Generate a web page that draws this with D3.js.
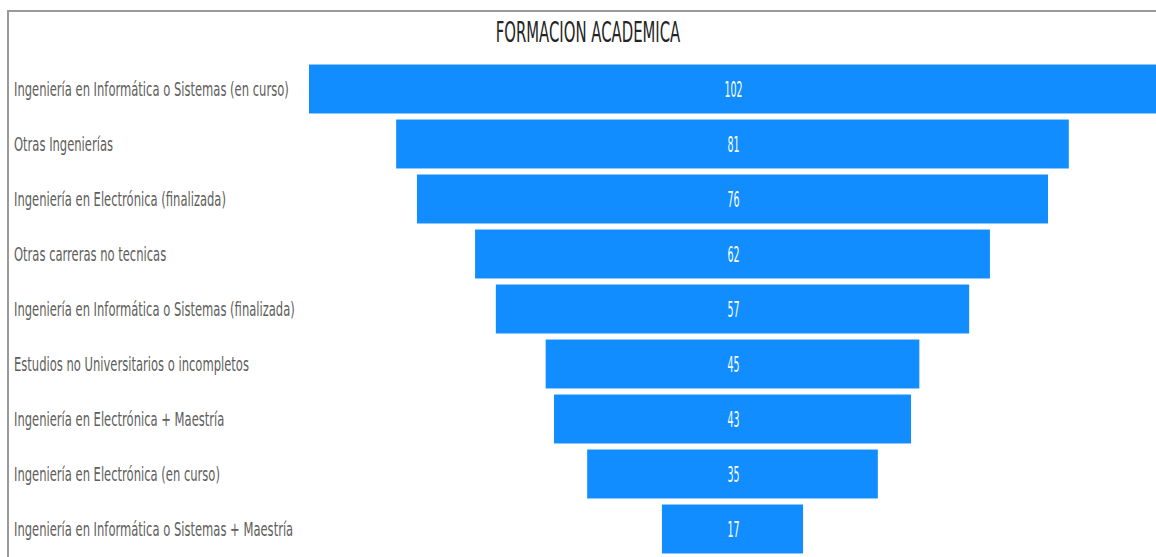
<!DOCTYPE html>
<html>
<head>
<meta charset="utf-8">
<script src="https://cdn.jsdelivr.net/npm/d3@7"></script>
<style>
  body { margin: 0; background: #fff; }
  svg { display: block; }
</style>
</head>
<body>
<div id="chart"></div>
<script>
// data
var categories = [
  "Ingeniería en Informática o Sistemas (en curso)",
  "Otras Ingenierías",
  "Ingeniería en Electrónica (finalizada)",
  "Otras carreras no tecnicas",
  "Ingeniería en Informática o Sistemas (finalizada)",
  "Estudios no Universitarios o incompletos",
  "Ingeniería en Electrónica + Maestría",
  "Ingeniería en Electrónica (en curso)",
  "Ingeniería en Informática o Sistemas + Maestría"
];
var values = [102, 81, 76, 62, 57, 45, 43, 35, 17];
var title = "FORMACION ACADEMICA";

var svgWidth = 1156;
var svgHeight = 557;
var narrow = "'DejaVu Sans Condensed', 'DejaVu Sans', sans-serif";

// squeeze text horizontally to look like the condensed font in the original
function condense(sel, k) {
  sel.each(function() {
    var len = this.getComputedTextLength();
    d3.select(this)
      .attr("textLength", len * k)
      .attr("lengthAdjust", "spacingAndGlyphs");
  });
}

var svg = d3.select("#chart")
  .append("svg")
  .attr("width", svgWidth)
  .attr("height", svgHeight);

// frame (top + left edges only visible)
svg.append("line")
  .attr("x1", 8).attr("x2", svgWidth)
  .attr("y1", 11).attr("y2", 11)
  .attr("stroke", "#9a9a9a").attr("stroke-width", 2);
svg.append("line")
  .attr("x1", 8).attr("x2", 8)
  .attr("y1", 10).attr("y2", svgHeight)
  .attr("stroke", "#9a9a9a").attr("stroke-width", 2);

svg.append("text")
  .attr("x", 588)
  .attr("y", 42)
  .attr("text-anchor", "middle")
  .attr("font-family", narrow)
  .attr("font-size", 28)
  .attr("fill", "#252423")
  .text(title)
  .call(condense, 0.59);

var centerX = 732.5;
var maxWidth = 847;

var y = d3.scaleBand()
  .domain(categories)
  .range([61.5, 556.5])
  .paddingInner(0.11)
  .paddingOuter(0.055);

var w = d3.scaleLinear()
  .domain([0, d3.max(values)])
  .range([0, maxWidth]);

var rows = categories.map(function(c, i) { return { cat: c, val: values[i] }; });

var g = svg.append("g");

g.selectAll("rect")
  .data(rows)
  .enter()
  .append("rect")
  .attr("x", d => centerX - w(d.val) / 2)
  .attr("y", d => y(d.cat))
  .attr("width", d => w(d.val))
  .attr("height", y.bandwidth())
  .attr("fill", "#118DFF");

g.selectAll(".val")
  .data(rows)
  .enter()
  .append("text")
  .attr("class", "val")
  .attr("x", centerX + 1)
  .attr("y", d => y(d.cat) + y.bandwidth() / 2 + 8)
  .attr("text-anchor", "middle")
  .attr("font-family", narrow)
  .attr("font-size", 21)
  .attr("fill", "#ffffff")
  .text(d => d.val)
  .call(condense, 0.5);

g.selectAll(".cat")
  .data(rows)
  .enter()
  .append("text")
  .attr("class", "cat")
  .attr("x", 14)
  .attr("y", d => y(d.cat) + y.bandwidth() / 2 + 7)
  .attr("font-family", narrow)
  .attr("font-size", 20)
  .attr("fill", "#605E5C")
  .text(d => d.cat)
  .call(condense, 0.642);
</script>
</body>
</html>
